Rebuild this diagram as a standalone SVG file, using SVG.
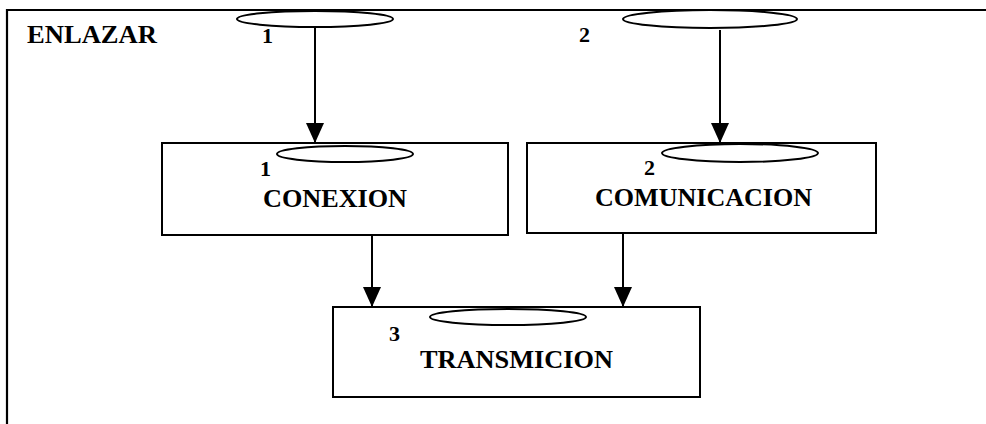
<svg xmlns="http://www.w3.org/2000/svg" width="986" height="424" viewBox="0 0 986 424">
<style>
.frame{fill:none;stroke:#000;stroke-width:2.2}
.box{fill:#fff;stroke:#000;stroke-width:2}
.ell{fill:#fff;stroke:#000;stroke-width:2}
.lbl{font-family:"Liberation Serif","Times New Roman",serif;font-weight:bold;font-size:26px;fill:#000}
.num{font-family:"Liberation Serif","Times New Roman",serif;font-weight:bold;font-size:22px;fill:#000}
.conn{stroke:#000;stroke-width:2;fill:none}
</style>
<defs>
<marker id="ah" viewBox="0 0 20 18" refX="20" refY="9" markerWidth="20" markerHeight="18" markerUnits="userSpaceOnUse" orient="auto">
<path d="M0,0 L20,9 L0,18 Z" fill="#000"/>
</marker>
</defs>
<rect width="986" height="424" fill="#fff"/>
<g id="enlazar">
<path class="frame" d="M7,424 L7,10 L986,10"/>
<text class="lbl" x="27" y="43" textLength="130" lengthAdjust="spacingAndGlyphs">ENLAZAR</text>
<ellipse class="ell" cx="315" cy="19" rx="78" ry="8"/>
<text class="num" x="262" y="43">1</text>
<ellipse class="ell" cx="710" cy="19" rx="87" ry="9"/>
<text class="num" x="579" y="42">2</text>
</g>
<g id="conexion">
<rect class="box" x="162" y="143" width="346" height="92"/>
<ellipse class="ell" cx="345" cy="154" rx="68" ry="8"/>
<text class="num" x="260" y="176">1</text>
<text class="lbl" x="263" y="207" textLength="144" lengthAdjust="spacingAndGlyphs">CONEXION</text>
</g>
<g id="comunicacion">
<rect class="box" x="527" y="143" width="349" height="90"/>
<ellipse class="ell" cx="740" cy="153" rx="78" ry="9"/>
<text class="num" x="644" y="175">2</text>
<text class="lbl" x="595" y="206" textLength="217" lengthAdjust="spacingAndGlyphs">COMUNICACION</text>
</g>
<g id="transmicion">
<rect class="box" x="333" y="307" width="367" height="90"/>
<ellipse class="ell" cx="508" cy="317" rx="78" ry="8"/>
<text class="num" x="389" y="341">3</text>
<text class="lbl" x="420" y="368" textLength="193" lengthAdjust="spacingAndGlyphs">TRANSMICION</text>
</g>
<g id="connectors">
<line class="conn" x1="315" y1="27" x2="315" y2="143" marker-end="url(#ah)"/>
<line class="conn" x1="720" y1="30" x2="720" y2="143" marker-end="url(#ah)"/>
<line class="conn" x1="372" y1="235" x2="372" y2="307" marker-end="url(#ah)"/>
<line class="conn" x1="623" y1="233" x2="623" y2="307" marker-end="url(#ah)"/>
</g>
</svg>
